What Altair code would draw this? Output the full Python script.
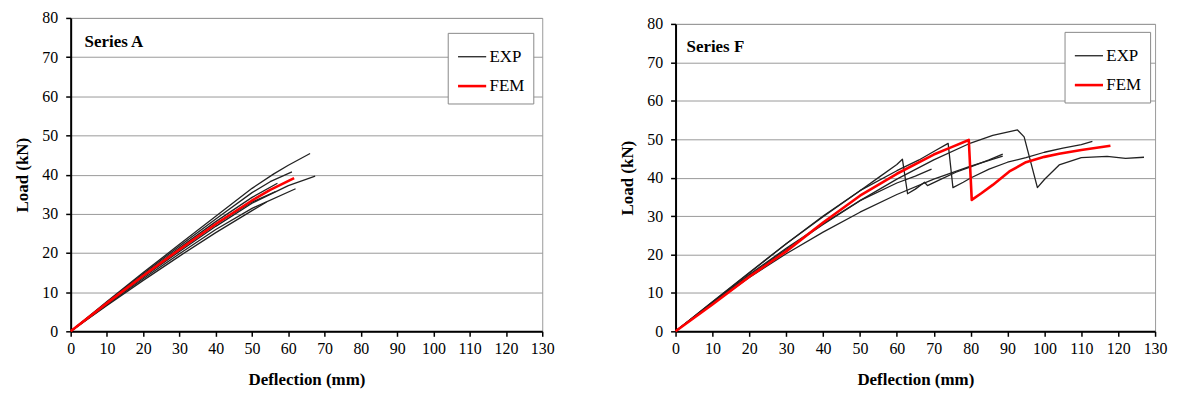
import altair as alt
import pandas as pd

# ---------------- Series A ----------------
A_EXP1_x = [0, 10, 20, 30, 40, 50, 56, 60, 66]
A_EXP1_y = [0, 7.6, 15.0, 22.2, 29.4, 36.5, 40.2, 42.4, 45.4]
A_EXP2_x = [0, 10, 20, 30, 40, 50, 55, 61]
A_EXP2_y = [0, 7.4, 14.7, 21.8, 28.7, 35.4, 38.2, 40.7]
A_EXP3_x = [0, 10, 20, 30, 40, 50, 57]
A_EXP3_y = [0, 7.3, 14.4, 21.3, 28.0, 34.2, 37.8]
A_EXP4_x = [0, 10, 20, 30, 40, 50, 60, 67.4]
A_EXP4_y = [0, 7.0, 13.8, 20.4, 26.8, 32.7, 37.2, 39.6]
A_EXP5_x = [0, 10, 20, 30, 40, 50, 62]
A_EXP5_y = [0, 6.8, 13.4, 19.8, 26.0, 31.4, 36.4]
A_EXP6_x = [0, 10, 20, 30, 40, 50, 56.5]
A_EXP6_y = [0, 7.1, 14.0, 20.8, 27.3, 33.0, 35.7]
A_EXP7_x = [0, 10, 20, 30, 40, 50, 54]
A_EXP7_y = [0, 6.6, 13.0, 19.2, 25.2, 30.8, 33.0]
A_FEM_x = [0, 10, 20, 30, 40, 50, 55, 61.6]
A_FEM_y = [0, 7.2, 14.2, 20.9, 27.4, 33.4, 36.1, 39.1]

# ---------------- Series F ----------------
F_EXP1_x = [0, 10, 20, 30, 40, 50, 55, 60, 61.5, 62.9, 65, 67.5, 68.3, 72, 76, 80, 85, 88.7]
F_EXP1_y = [0, 7.6, 15.2, 22.8, 29.8, 36.6, 40.0, 43.4, 44.8, 35.8, 37.0, 38.8, 37.9, 39.6, 41.4, 42.8, 44.6, 46.1]
F_EXP2_x = [0, 10, 20, 30, 40, 50, 60, 65, 69.4]
F_EXP2_y = [0, 7.5, 14.8, 21.6, 28.0, 34.0, 38.6, 40.4, 42.2]
F_EXP3_x = [0, 10, 20, 30, 40, 50, 60, 66, 70, 73.9, 75.2, 78, 80, 85, 90, 95, 100, 105, 110, 113]
F_EXP3_y = [0, 7.7, 15.3, 22.8, 30.0, 36.6, 41.8, 44.6, 46.8, 48.9, 37.4, 38.8, 39.9, 42.2, 44.0, 45.2, 46.6, 47.7, 48.6, 49.4]
F_EXP4_x = [0, 10, 20, 30, 40, 50, 60, 70, 80, 86, 92.7, 94.5, 98.1, 100, 104, 110, 117, 122, 127]
F_EXP4_y = [0, 7.3, 14.5, 21.3, 27.8, 34.0, 39.6, 44.6, 49.0, 51.0, 52.4, 50.6, 37.4, 39.5, 43.3, 45.2, 45.5, 45.0, 45.3]
F_EXP5_x = [0, 10, 20, 30, 40, 50, 60, 70, 80, 88.7]
F_EXP5_y = [0, 7.2, 14.0, 20.2, 25.8, 31.0, 35.6, 39.6, 43.0, 45.6]
F_FEM_x = [0, 10, 20, 30, 40, 50, 60, 70, 75, 79.5, 80.3, 83, 86, 90.5, 95, 100, 104, 110, 117.9]
F_FEM_y = [0, 7.0, 14.2, 20.8, 28.3, 35.3, 41.0, 46.0, 48.0, 49.8, 34.2, 36.0, 38.1, 41.6, 44.0, 45.4, 46.2, 47.2, 48.3]

TYPES = ["EXP", "FEM"]
X_TICKS = list(range(0, 131, 10))
Y_TICKS = list(range(0, 81, 10))
FONT = "Liberation Serif, Times New Roman, DejaVu Serif, serif"


def build(curves):
    rows = []
    for name, kind, xs, ys in curves:
        for i, (x, y) in enumerate(zip(xs, ys)):
            rows.append({"specimen": name, "type": kind, "idx": i, "defl": x, "load": y})
    return pd.DataFrame(rows)


dfA = build([
    ("A1", "EXP", A_EXP1_x, A_EXP1_y), ("A2", "EXP", A_EXP2_x, A_EXP2_y),
    ("A3", "EXP", A_EXP3_x, A_EXP3_y), ("A4", "EXP", A_EXP4_x, A_EXP4_y),
    ("A5", "EXP", A_EXP5_x, A_EXP5_y), ("A6", "EXP", A_EXP6_x, A_EXP6_y),
    ("A7", "EXP", A_EXP7_x, A_EXP7_y), ("AF", "FEM", A_FEM_x, A_FEM_y),
])
dfF = build([
    ("F1", "EXP", F_EXP1_x, F_EXP1_y), ("F2", "EXP", F_EXP2_x, F_EXP2_y),
    ("F3", "EXP", F_EXP3_x, F_EXP3_y), ("F4", "EXP", F_EXP4_x, F_EXP4_y),
    ("F5", "EXP", F_EXP5_x, F_EXP5_y), ("FF", "FEM", F_FEM_x, F_FEM_y),
])

AX_COMMON = dict(
    labelFont=FONT, labelFontSize=16, labelColor="black",
    titleFont=FONT, titleFontSize=17, titleFontWeight="bold", titleColor="black",
    domainColor="black", domainWidth=2, tickColor="black", tickWidth=1.5, tickSize=5,
    format="d",
)


def panel(df, label, w, h, lx, ly, tx, ty):
    xax = alt.Axis(values=X_TICKS, grid=False, title="Deflection (mm)",
                   labelPadding=4, titlePadding=15, labelFlush=False, labelOverlap=False, **AX_COMMON)
    yax = alt.Axis(values=Y_TICKS, grid=True, gridColor="#999999", gridWidth=1, title="Load (kN)",
                   labelPadding=8, titlePadding=10, **AX_COMMON)
    legend = alt.Legend(
        orient="none", legendX=lx, legendY=ly, title=None,
        strokeColor="#888888", fillColor="white", padding=9,
        symbolType="stroke", symbolSize=800, labelFont=FONT, labelFontSize=17,
        labelColor="black", rowPadding=6, labelOffset=2,
    )
    lines = alt.Chart(df).mark_line(strokeJoin="round").encode(
        x=alt.X("defl:Q", scale=alt.Scale(domain=[0, 130], nice=False), axis=xax),
        y=alt.Y("load:Q", scale=alt.Scale(domain=[0, 80], nice=False), axis=yax),
        color=alt.Color("type:N", scale=alt.Scale(domain=TYPES, range=["#222222", "#ff0000"]), legend=legend),
        strokeWidth=alt.StrokeWidth("type:N", scale=alt.Scale(domain=TYPES, range=[1.3, 2.6]), legend=legend),
        detail="specimen:N",
        order="idx:Q",
    )
    text = alt.Chart(pd.DataFrame({"t": [label]})).mark_text(
        font=FONT, fontSize=17, fontWeight="bold", align="left", baseline="middle", color="black"
    ).encode(text="t:N", x=alt.value(tx), y=alt.value(ty))
    return alt.layer(lines, text).properties(width=w, height=h)


left = panel(dfA, "Series A", 474, 315, 379, 15, 14, 24)
right_plot = panel(dfF, "Series F", 482, 309, 391, 14, 11, 23)
spacer = alt.Chart(pd.DataFrame({"a": [0]})).mark_point(opacity=0).encode(
    x=alt.X("a:Q", axis=None), y=alt.Y("a:Q", axis=None)
).properties(width=482, height=1, view=alt.ViewBackground(stroke="transparent"))
right = alt.vconcat(spacer, right_plot, spacing=5, bounds="flush")

chart = alt.hconcat(left, right, spacing=63).resolve_legend(
    color="independent", strokeWidth="independent"
).resolve_scale(color="independent", strokeWidth="independent").configure_view(
    stroke="#999999", strokeWidth=1
).properties(padding={"left": 5, "right": 2, "top": 0, "bottom": 2})

chart.save("out.html", embed_options={"renderer": "svg", "actions": False})
